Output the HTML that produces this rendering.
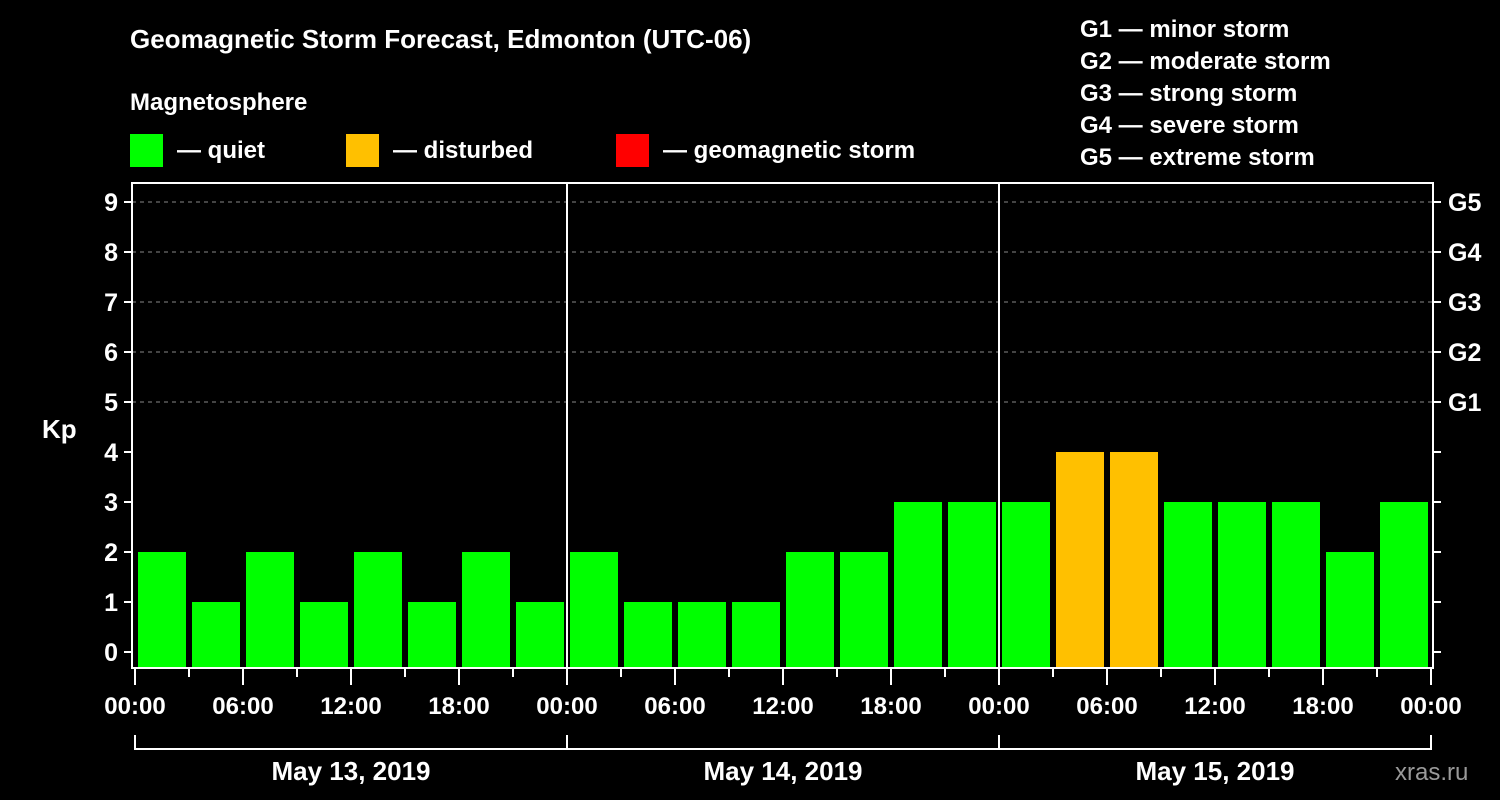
<!DOCTYPE html>
<html><head><meta charset="utf-8"><style>
body{margin:0;background:#000;}
svg{display:block;font-family:"Liberation Sans",Arial,sans-serif;font-weight:bold;}
</style></head><body>
<svg id="c" width="1500" height="800" xmlns="http://www.w3.org/2000/svg">
<rect width="1500" height="800" fill="#000"/>
<text x="130" y="48" fill="#fff" font-size="26">Geomagnetic Storm Forecast, Edmonton (UTC-06)</text>
<text x="130" y="110" fill="#fff" font-size="24">Magnetosphere</text>
<g><rect x="130" y="134" width="33" height="33" fill="#00ff00"/><text x="177" y="158" fill="#fff" font-size="24">— quiet</text></g>
<g><rect x="346" y="134" width="33" height="33" fill="#ffc000"/><text x="393" y="158" fill="#fff" font-size="24">— disturbed</text></g>
<g><rect x="616" y="134" width="33" height="33" fill="#ff0000"/><text x="663" y="158" fill="#fff" font-size="24">— geomagnetic storm</text></g>
<g fill="#fff" font-size="24">
<text x="1080" y="37">G1 — minor storm</text><text x="1080" y="69">G2 — moderate storm</text><text x="1080" y="101">G3 — strong storm</text><text x="1080" y="133">G4 — severe storm</text><text x="1080" y="165">G5 — extreme storm</text></g>
<text x="42" y="438" fill="#fff" font-size="26">Kp</text>
<text x="1395" y="780" fill="#999" font-size="24" font-weight="normal">xras.ru</text>
<g id="grid"></g><g id="bars"></g><g id="axes"></g>
</svg>
<script>
const kpValues=[2,1,2,1,2,1,2,1, 2,1,1,1,2,2,3,3, 3,4,4,3,3,3,2,3];
const yTicks=[0,1,2,3,4,5,6,7,8,9];
const gLabels=["G1","G2","G3","G4","G5"];
const xTickLabels=["00:00","06:00","12:00","18:00","00:00","06:00","12:00","18:00","00:00","06:00","12:00","18:00","00:00"];
const dayLabels=["May 13, 2019","May 14, 2019","May 15, 2019"];
const NS="http://www.w3.org/2000/svg";
const x0=135,slot=54,L=132,R=1433,T=183,B=668;
const y=v=>652-v*50;
const xs=i=>x0+i*slot;
function mk(t,a,p){const e=document.createElementNS(NS,t);for(const k in a)e.setAttribute(k,a[k]);p.appendChild(e);return e;}
const grid=document.getElementById('grid'),bars=document.getElementById('bars'),axes=document.getElementById('axes');
[5,6,7,8,9].forEach(v=>{const l=mk('line',{x1:L,x2:R,y1:y(v),y2:y(v),stroke:'#888','stroke-dasharray':'4,4','stroke-width':1},grid);

});
kpValues.forEach((v,i)=>{const r=mk('rect',{x:xs(i)+3,y:y(v),width:48,height:B-y(v),fill:v>=5?'#ff0000':(v>=4?'#ffc000':'#00ff00')},bars);

});
mk('rect',{x:L,y:T,width:R-L,height:B-T,fill:'none',stroke:'#fff','stroke-width':2},axes);
[1,2].forEach(d=>{const l=mk('line',{x1:xs(d*8),x2:xs(d*8),y1:T,y2:B,stroke:'#fff','stroke-width':2},axes);

});
yTicks.forEach(v=>{mk('line',{x1:L-8,x2:L,y1:y(v),y2:y(v),stroke:'#fff','stroke-width':2},axes);
mk('line',{x1:R,x2:R+8,y1:y(v),y2:y(v),stroke:'#fff','stroke-width':2},axes);
const t=mk('text',{x:L-14,y:y(v)+9,fill:'#fff','font-size':25,'text-anchor':'end'},axes);t.textContent=v;

});
gLabels.forEach((g,i)=>{const t=mk('text',{x:1448,y:y(i+5)+9,fill:'#fff','font-size':25},axes);t.textContent=g;

});
for(let k=0;k<=24;k++){const big=k%2==0;mk('line',{x1:xs(k),x2:xs(k),y1:B,y2:big?685:677,stroke:'#fff','stroke-width':2},axes);}
xTickLabels.forEach((s,i)=>{const t=mk('text',{x:xs(i*2),y:714,fill:'#fff','font-size':24,'text-anchor':'middle'},axes);t.textContent=s;

});
mk('path',{d:`M${xs(0)},735V749H${xs(24)}V735M${xs(8)},735V749M${xs(16)},735V749`,stroke:'#fff','stroke-width':2,fill:'none'},axes);
dayLabels.forEach((s,i)=>{const t=mk('text',{x:xs(i*8+4),y:780,fill:'#fff','font-size':26,'text-anchor':'middle'},axes);t.textContent=s;

});
</script>
</body></html>
